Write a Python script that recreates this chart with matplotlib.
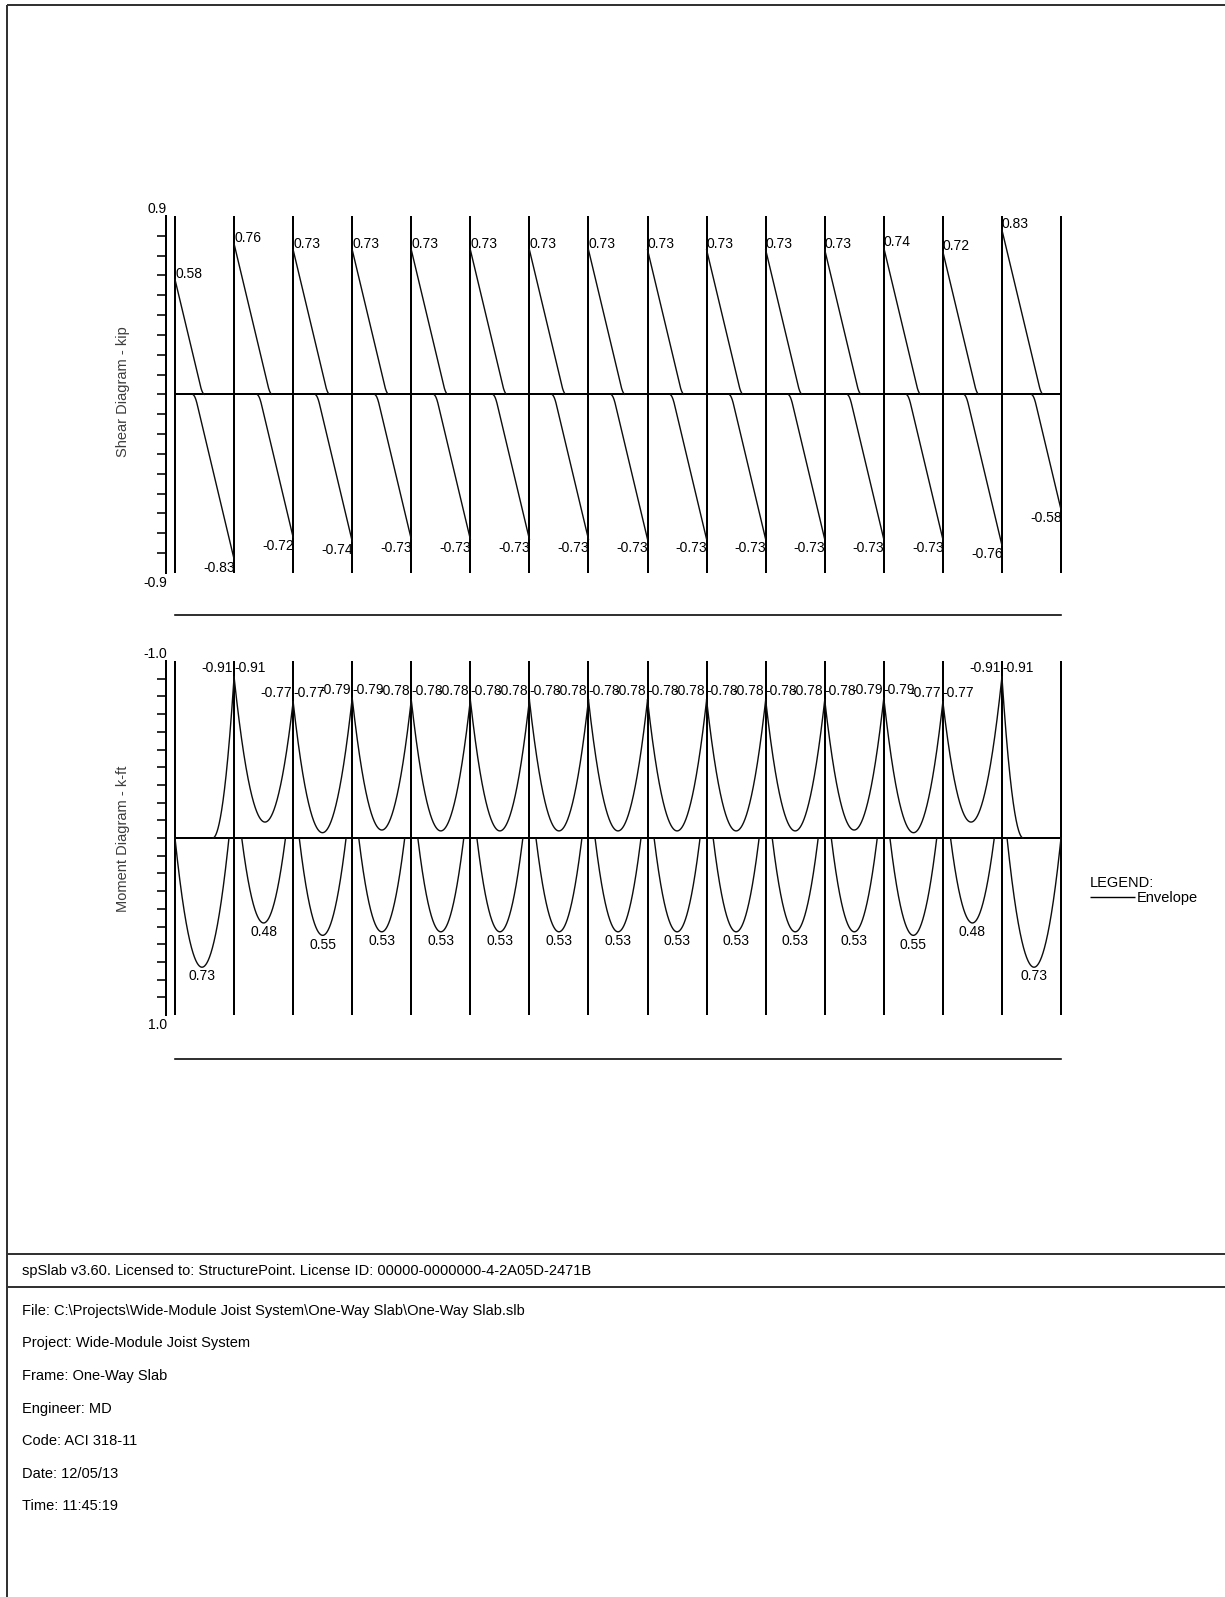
import numpy as np
import matplotlib
matplotlib.use("Agg")
import matplotlib.pyplot as plt
from matplotlib.lines import Line2D
from matplotlib.transforms import blended_transform_factory, offset_copy

plt.rcParams["font.family"] = ["Liberation Sans", "DejaVu Sans"]

# ---------------------------------------------------------------- data
N_SPANS = 15

# shear envelope at the left / right end of every span (kip)
SHEAR_LEFT = [0.58, 0.76, 0.73, 0.73, 0.73, 0.73, 0.73, 0.73,
              0.73, 0.73, 0.73, 0.73, 0.74, 0.72, 0.83]
SHEAR_RIGHT = [-0.83, -0.72, -0.74, -0.73, -0.73, -0.73, -0.73, -0.73,
               -0.73, -0.73, -0.73, -0.73, -0.73, -0.76, -0.58]

# hogging moment at each support (k-ft), exterior supports are pinned
SUPPORT_MOMENT = [0.0, -0.91, -0.77, -0.79, -0.78, -0.78, -0.78, -0.78,
                  -0.78, -0.78, -0.78, -0.78, -0.79, -0.77, -0.91, 0.0]
# maximum sagging moment in each span (k-ft)
SPAN_MOMENT_POS = [0.73, 0.48, 0.55, 0.53, 0.53, 0.53, 0.53, 0.53,
                   0.53, 0.53, 0.53, 0.53, 0.55, 0.48, 0.73]
# least hogging value reached by the negative envelope inside interior spans
SPAN_MOMENT_NEG_MIN = [None, -0.09, -0.03, -0.045, -0.04, -0.04, -0.04, -0.04,
                       -0.04, -0.04, -0.04, -0.045, -0.03, -0.09, None]
# fraction of an end span (from the exterior support) where hogging starts
END_SPAN_HOG_START = 0.64

SHEAR_SLOPE = 1.25      # kip per span length (distributed load)
MOMENT_CURVATURE = 7.0  # k-ft per span length squared

INFO_HEADER = "spSlab v3.60. Licensed to: StructurePoint. License ID: 00000-0000000-4-2A05D-2471B"
INFO_LINES = [
    "File: C:\\Projects\\Wide-Module Joist System\\One-Way Slab\\One-Way Slab.slb",
    "Project: Wide-Module Joist System",
    "Frame: One-Way Slab",
    "Engineer: MD",
    "Code: ACI 318-11",
    "Date: 12/05/13",
    "Time: 11:45:19",
]

# ---------------------------------------------------------------- layout
W, H = 1225, 1597
DPI = 100
PT = 72.0 / DPI  # points per pixel

fig = plt.figure(figsize=(W / DPI, H / DPI), dpi=DPI)
fig.patch.set_facecolor("white")


def rect(x0, x1, ytop, ybot):
    return [x0 / W, 1 - ybot / H, (x1 - x0) / W, (ybot - ytop) / H]


def fig_line(x0, y0, x1, y1, lw=2.0, color="#222222"):
    fig.add_artist(Line2D([x0 / W, x1 / W], [1 - y0 / H, 1 - y1 / H],
                          transform=fig.transFigure, lw=lw * PT,
                          color=color, solid_capstyle="butt"))


def soft_pos(v, d=0.05):
    v = np.asarray(v, dtype=float)
    out = np.where(v > d, v, (v + d) ** 2 / (4 * d))
    return np.where(v < -d, 0.0, out)


FS_NUM = 10
FS_TXT = 10.5
CURVE_LW = 1.4 * PT
CURVE_COLOR = "#0d0d0d"
SUPPORT_LW = 2.0 * PT
TICK_OUT = 9 * PT


def setup_axis(ax, ylo, yhi, ticks, top_lbl, bot_lbl, invert=False):
    ax.set_xlim(0, N_SPANS)
    if invert:
        ax.set_ylim(yhi, ylo)
    else:
        ax.set_ylim(ylo, yhi)
    for s in ("top", "right", "bottom"):
        ax.spines[s].set_visible(False)
    ax.spines["left"].set_position(("outward", TICK_OUT))
    ax.spines["left"].set_linewidth(SUPPORT_LW)
    ax.set_xticks([])
    ax.set_yticks(ticks)
    ax.tick_params(axis="y", direction="out", length=TICK_OUT,
                   width=1.6 * PT, labelleft=False)
    ax.patch.set_alpha(0)
    # end values of the scale
    ytr = ax.get_yaxis_transform()
    t_up = offset_copy(ytr, fig=fig, x=-TICK_OUT + 0.5, y=-0.3, units="points")
    t_dn = offset_copy(ytr, fig=fig, x=-TICK_OUT + 0.5, y=-2.5, units="points")
    top_v, bot_v = (ylo, yhi) if invert else (yhi, ylo)
    ax.text(0, top_v, top_lbl, transform=t_up, ha="right", va="bottom",
            fontsize=FS_NUM)
    ax.text(0, bot_v, bot_lbl, transform=t_dn, ha="right", va="top",
            fontsize=FS_NUM)
    # supports and base line
    ax.vlines(np.arange(N_SPANS + 1), ylo, yhi, color="black",
              lw=SUPPORT_LW, clip_on=False)
    ax.plot([0, N_SPANS], [0, 0], color="black", lw=SUPPORT_LW, clip_on=False)


def separator(ax, ypix):
    tr = blended_transform_factory(ax.transData, fig.transFigure)
    ax.plot([0, N_SPANS], [1 - ypix / H] * 2, transform=tr, color="black",
            lw=1.6 * PT, clip_on=False)


t = np.linspace(0, 1, 600)

# ---------------------------------------------------------------- shear
ax_v = fig.add_axes(rect(175, 1061, 216, 573))
setup_axis(ax_v, -0.9, 0.9, np.round(np.arange(-0.8, 0.81, 0.1), 2),
           "0.9", "-0.9")
for i in range(N_SPANS):
    vl, vr = SHEAR_LEFT[i], SHEAR_RIGHT[i]
    pos = soft_pos(vl - SHEAR_SLOPE * t)
    m = pos > 1e-3
    ax_v.plot(i + t[m], pos[m], color=CURVE_COLOR, lw=CURVE_LW, clip_on=False)
    neg = -soft_pos(-vr - SHEAR_SLOPE * (1 - t))
    m = neg < -1e-3
    ax_v.plot(i + t[m], neg[m], color=CURVE_COLOR, lw=CURVE_LW, clip_on=False)
    ax_v.annotate(f"{vl:.2f}", xy=(i, vl), xytext=(0, -0.8),
                  textcoords="offset points", ha="left", va="bottom",
                  fontsize=FS_NUM)
    ax_v.annotate(f"{vr:.2f}", xy=(i + 1, vr), xytext=(0.5, -1.0),
                  textcoords="offset points", ha="right", va="top",
                  fontsize=FS_NUM)
separator(ax_v, 615)

fig.text(123 / W, 1 - 392 / H, "Shear Diagram - kip", rotation=90,
         ha="center", va="center", fontsize=FS_TXT, color="#3c3c3c")

# ---------------------------------------------------------------- moment
ax_m = fig.add_axes(rect(175, 1061, 661, 1015))
setup_axis(ax_m, -1.0, 1.0, np.round(np.arange(-0.9, 0.91, 0.1), 2),
           "-1.0", "1.0", invert=True)

for i in range(N_SPANS):
    ml, mr = SUPPORT_MOMENT[i], SUPPORT_MOMENT[i + 1]
    mp = SPAN_MOMENT_POS[i]
    # sagging envelope
    h = np.sqrt(2 * mp / MOMENT_CURVATURE)
    if i == 0:
        cp = h
    elif i == N_SPANS - 1:
        cp = 1 - h
    else:
        cp = 0.5
    mpos = mp - 0.5 * MOMENT_CURVATURE * (t - cp) ** 2
    m = mpos >= 0
    ax_m.plot(i + t[m], mpos[m], color=CURVE_COLOR, lw=CURVE_LW, clip_on=False)
    # hogging envelope
    if i == 0:
        x0 = END_SPAN_HOG_START
        s = t >= x0
        mneg = mr * ((t[s] - x0) / (1 - x0)) ** 2
        ax_m.plot(i + t[s], mneg, color=CURVE_COLOR, lw=CURVE_LW, clip_on=False)
    elif i == N_SPANS - 1:
        x0 = 1 - END_SPAN_HOG_START
        s = t <= x0
        mneg = ml * ((x0 - t[s]) / x0) ** 2
        ax_m.plot(i + t[s], mneg, color=CURVE_COLOR, lw=CURVE_LW, clip_on=False)
    else:
        mb = SPAN_MOMENT_NEG_MIN[i]
        dl, dr = -ml + mb, -mr + mb
        r = np.sqrt(dl / dr)
        c = r / (1 + r)
        a = dl / c ** 2
        mneg = mb - a * (t - c) ** 2
        ax_m.plot(i + t, mneg, color=CURVE_COLOR, lw=CURVE_LW, clip_on=False)
    ax_m.annotate(f"{mp:.2f}", xy=(i + cp, mp),
                  xytext=(0, -1.6), textcoords="offset points",
                  ha="center", va="top", fontsize=FS_NUM)

for j in range(1, N_SPANS):
    mv = SUPPORT_MOMENT[j]
    ax_m.annotate(f"{mv:.2f}", xy=(j, mv), xytext=(-1, 1.2),
                  textcoords="offset points", ha="right", va="bottom",
                  fontsize=FS_NUM)
    ax_m.annotate(f"{mv:.2f}", xy=(j, mv), xytext=(0, 1.2),
                  textcoords="offset points", ha="left", va="bottom",
                  fontsize=FS_NUM)
separator(ax_m, 1059)

fig.text(123 / W, 1 - 839 / H, "Moment Diagram - k-ft", rotation=90,
         ha="center", va="center", fontsize=FS_TXT, color="#3c3c3c")

# ---------------------------------------------------------------- legend
fig.text(1090 / W, 1 - 883 / H, "LEGEND:", ha="left", va="center",
         fontsize=FS_TXT)
fig_line(1090, 897, 1135, 897, lw=1.4, color="black")
fig.text(1137 / W, 1 - 898 / H, "Envelope", ha="left", va="center",
         fontsize=FS_TXT)

# ---------------------------------------------------------------- page frame
fig_line(7, 5, W, 5, lw=2.0, color="#333333")
fig_line(7, 5, 7, H, lw=2.0, color="#333333")
fig_line(7, 1254, W, 1254, lw=2.0, color="#333333")
fig_line(7, 1287, W, 1287, lw=2.0, color="#333333")

fig.text(22 / W, 1 - 1271 / H, INFO_HEADER, ha="left", va="center",
         fontsize=FS_TXT)
for k, line in enumerate(INFO_LINES):
    fig.text(22 / W, 1 - (1311 + 32.5 * k) / H, line, ha="left",
             va="center", fontsize=FS_TXT)

fig.savefig("out.png", dpi=DPI, facecolor="white")
